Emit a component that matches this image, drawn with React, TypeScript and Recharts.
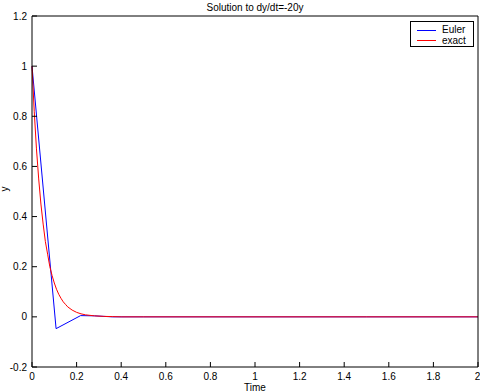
import { Line, LineChart, XAxis, YAxis } from "recharts";

const FONT = "'Liberation Sans', Arial, sans-serif";

// Euler solution (step ~0.11) and exact solution
const eulerT = [0, 0.108, 0.218, 0.28, 0.36, 0.5, 1, 1.5, 2];
const eulerY = [1, -0.047, 0.005, 0.004, 0, 0, 0, 0, 0];

const exactT = [
  0, 0.01, 0.02, 0.03, 0.04, 0.05, 0.06, 0.07, 0.08, 0.09, 0.1, 0.11, 0.12,
  0.13, 0.14, 0.15, 0.16, 0.18, 0.2, 0.22, 0.24, 0.28, 0.32, 0.36, 0.4, 1, 2,
];
const exactY = [
  1, 0.82, 0.67, 0.55, 0.45, 0.37, 0.3, 0.25, 0.2, 0.165, 0.135, 0.11, 0.09,
  0.074, 0.06, 0.05, 0.04, 0.027, 0.018, 0.012, 0.008, 0.004, 0.002, 0.001, 0,
  0, 0,
];

const xTicks = [0, 0.2, 0.4, 0.6, 0.8, 1, 1.2, 1.4, 1.6, 1.8, 2];
const yTicks = [-0.2, 0, 0.2, 0.4, 0.6, 0.8, 1, 1.2];

const seriesNames = ["Euler", "exact"];
const seriesColors = ["#0000ff", "#ff0000"];

const eulerData = eulerT.map((t, i) => ({ t, y: eulerY[i] }));
const exactData = exactT.map((t, i) => ({ t, y: exactY[i] }));

const tickStyle = { fontSize: 10, fill: "#000", fontFamily: FONT };

function LegendBox() {
  return (
    <div
      style={{
        position: "absolute",
        left: 410,
        top: 21,
        border: "1px solid #000",
        background: "#fff",
        width: 64,
        height: 26,
        boxSizing: "border-box",
        padding: "3px 0 0 6px",
        fontFamily: FONT,
        fontSize: 10,
        lineHeight: "10.5px",
        color: "#000",
      }}
    >
      {seriesNames.map((name, i) => (
        <div key={name} style={{ display: "flex", alignItems: "center" }}>
          <span
            style={{
              display: "inline-block",
              width: 19,
              height: 0,
              borderTop: `1px solid ${seriesColors[i]}`,
              marginRight: 6,
            }}
          />
          <span>{name}</span>
        </div>
      ))}
    </div>
  );
}

export default function App() {
  return (
    <div style={{ position: "absolute", left: 0, top: 0, background: "#fff" }}>
      <LineChart
        width={480}
        height={392}
        margin={{ top: 15, right: 1, left: 0, bottom: 0 }}
      >
        <XAxis
          dataKey="t"
          type="number"
          domain={[0, 2]}
          ticks={xTicks}
          allowDuplicatedCategory={false}
          tick={tickStyle}
          tickSize={-5}
          tickMargin={11}
          height={25}
          stroke="#000"
          label={{
            value: "Time",
            position: "insideBottom",
            offset: 1,
            fontSize: 10,
            fill: "#000",
            fontFamily: FONT,
          }}
        />
        <XAxis
          xAxisId="top"
          dataKey="t"
          type="number"
          orientation="top"
          domain={[0, 2]}
          ticks={xTicks}
          tick={false}
          tickSize={-5}
          height={1}
          stroke="#000"
          label={{
            value: "Solution to dy/dt=-20y",
            position: "top",
            offset: 4,
            fontSize: 10,
            fill: "#000",
            fontFamily: FONT,
          }}
        />
        <YAxis
          type="number"
          domain={[-0.2, 1.2]}
          ticks={yTicks}
          tick={tickStyle}
          tickSize={-5}
          tickMargin={10}
          width={32}
          stroke="#000"
          label={{
            value: "y",
            angle: -90,
            position: "insideLeft",
            offset: 4,
            fontSize: 10,
            fill: "#000",
            fontFamily: FONT,
          }}
        />
        <YAxis
          yAxisId="right"
          orientation="right"
          type="number"
          domain={[-0.2, 1.2]}
          ticks={yTicks}
          tick={false}
          tickSize={-5}
          width={1}
          stroke="#000"
        />
        <Line
          data={eulerData}
          dataKey="y"
          name={seriesNames[0]}
          stroke={seriesColors[0]}
          strokeWidth={1}
          dot={false}
          activeDot={false}
          type="linear"
          isAnimationActive={false}
        />
        <Line
          data={exactData}
          dataKey="y"
          name={seriesNames[1]}
          stroke={seriesColors[1]}
          strokeWidth={1}
          dot={false}
          activeDot={false}
          type="linear"
          isAnimationActive={false}
        />
      </LineChart>
      <LegendBox />
    </div>
  );
}
